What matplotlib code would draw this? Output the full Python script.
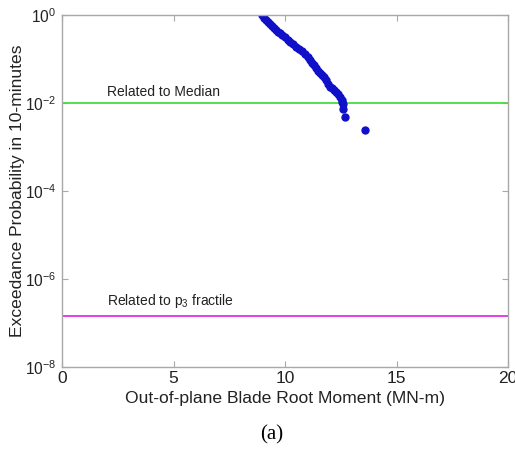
import matplotlib
matplotlib.use("Agg")
import matplotlib.pyplot as plt
import numpy as np

plt.rcParams['font.family'] = ['Liberation Sans', 'DejaVu Sans']
plt.rcParams['mathtext.fontset'] = 'custom'
plt.rcParams['mathtext.rm'] = 'Liberation Sans'
plt.rcParams['mathtext.it'] = 'Liberation Sans:italic'
plt.rcParams['mathtext.default'] = 'regular'

moment = [8.97, 9.06, 9.15, 9.24, 9.33, 9.42, 9.51, 9.60, 9.69, 9.78, 9.87,
          10.00, 10.13, 10.22, 10.36, 10.49, 10.63, 10.76, 10.90, 11.03, 11.12,
          11.21, 11.30, 11.39, 11.48, 11.57, 11.66, 11.75, 11.84, 11.93, 12.02,
          12.11, 12.20, 12.29, 12.38, 12.47, 12.54, 12.57, 12.58, 12.59, 12.69, 13.59]
exceed = [0.98, 0.877, 0.770, 0.693, 0.624, 0.562, 0.506, 0.456, 0.415, 0.380, 0.351,
          0.308, 0.270, 0.249, 0.219, 0.192, 0.169, 0.148, 0.130, 0.111, 0.0947,
          0.0830, 0.0729, 0.0623, 0.0532, 0.0480, 0.0443, 0.0389, 0.0324, 0.0269, 0.0234,
          0.0213, 0.0192, 0.0173, 0.0156, 0.0136, 0.0117, 0.0105, 0.0094, 0.0072, 0.0047, 0.0024]

median_level = 1e-2
p3_level = 1.4e-7

xticks = [0, 5, 10, 15, 20]
yticks = [1e-8, 1e-6, 1e-4, 1e-2, 1e0]
ytick_labels = [r'$10^{-8}$', r'$10^{-6}$', r'$10^{-4}$', r'$10^{-2}$', r'$10^{0}$']

fig = plt.figure(figsize=(5.15, 4.49), dpi=100)
ax = fig.add_axes([62/515, 1 - 366.7/449, 446/515, 351.7/449])

ax.axhline(median_level, color='#44dd44', lw=1.3)
ax.axhline(p3_level, color='#e030e0', lw=1.3)
ax.plot(moment, exceed, 'o', color='#1010c8', ms=5.0, mec='#1010c8', ls='none')

ax.set_yscale('log')
ax.set_xlim(0, 20)
ax.set_ylim(1e-8, 1e0)
ax.set_xticks(xticks)
ax.set_xticklabels([str(t) for t in xticks])
ax.set_yticks(yticks)
ax.set_yticklabels(ytick_labels)
ax.yaxis.set_minor_locator(matplotlib.ticker.NullLocator())

for s in ax.spines.values():
    s.set_color('#a8a8a8')
    s.set_linewidth(1.0)
ax.tick_params(direction='in', length=4, width=0.8, color='#a8a8a8',
               top=True, right=True, labelcolor='#222222', pad=3)
ax.tick_params(axis='x', labelsize=12.5)
ax.tick_params(axis='y', labelsize=11.2, pad=4)

ax.text(2.0, median_level * 1.25, 'Related to Median', fontsize=10, color='#222222',
        va='bottom', ha='left')
ax.text(2.0, p3_level * 1.4, r'Related to p$_3$ fractile', fontsize=10, color='#222222',
        va='bottom', ha='left')

ax.set_xlabel('Out-of-plane Blade Root Moment (MN-m)', fontsize=12.6, color='#222222', labelpad=4)
ax.set_ylabel('Exceedance Probability in 10-minutes', fontsize=12.6, color='#222222')
ax.yaxis.set_label_coords(-0.083, 0.5)

fig.text(0.528, 0.031, '(a)', fontsize=15, family='Liberation Serif', ha='center', va='center')

fig.savefig('out.png', dpi=100)
